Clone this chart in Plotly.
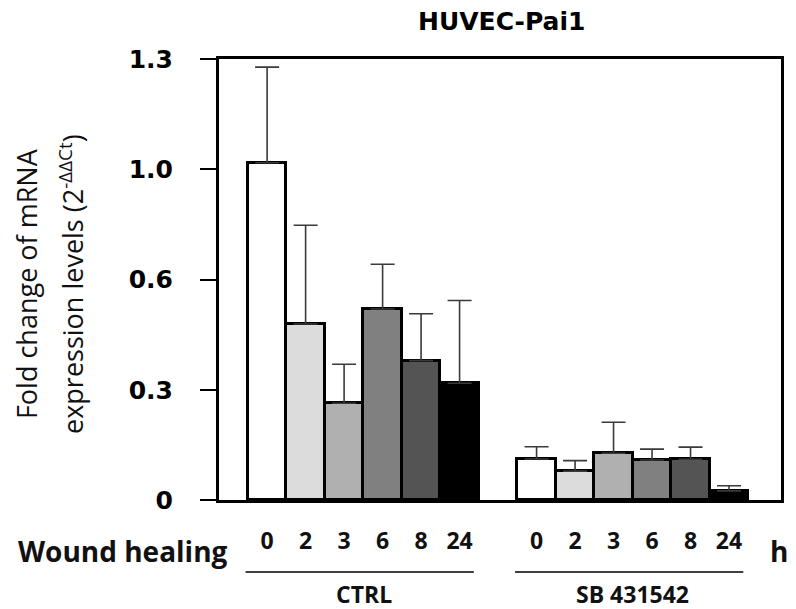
import plotly.graph_objects as go

# ---- data ----
hours = ["0", "2", "3", "6", "8", "24"]
groups = ["CTRL", "SB 431542"]
ctrl_mean = [0.994, 0.519, 0.285, 0.563, 0.411, 0.344]
ctrl_err = [0.282, 0.291, 0.115, 0.132, 0.138, 0.244]
sb_mean = [0.121, 0.085, 0.138, 0.118, 0.120, 0.027]
sb_err = [0.036, 0.031, 0.091, 0.032, 0.036, 0.015]
bar_colors = ["#ffffff", "#dcdcdc", "#b0b0b0", "#808080", "#545454", "#000000"]
ytick_vals = [0, 0.325, 0.65, 0.975, 1.3]
ytick_text = ["0", "0.3", "0.6", "1.0", "1.3"]

n = len(hours)
gap = 1
x_ctrl = [i for i in range(n)]
x_sb = [i + n + gap for i in range(n)]
xs = x_ctrl + x_sb
ys = ctrl_mean + sb_mean
errs = ctrl_err + sb_err

fig = go.Figure()
fig.add_trace(go.Bar(
    x=xs, y=ys, width=1.0,
    marker=dict(color=bar_colors * 2, line=dict(color="black", width=3)),
    error_y=dict(type="data", symmetric=False, array=errs, arrayminus=[0] * len(errs),
                 color="#3a3a3a", thickness=1.6, width=12),
    showlegend=False,
))

ytick_font = dict(family="DejaVu Sans", size=25, color="black", weight="bold")
lbl_bold = dict(family="Open Sans", size=28, color="#111111", weight="bold")
xtick_font = dict(family="Open Sans", size=23, color="#111111", weight="bold")
grp_font = dict(family="Open Sans", size=23, color="#111111", weight="bold")

# the page adds an 8px body margin; the figure is sized to compensate
fig.update_layout(
    width=788, height=601,
    margin=dict(l=211, r=13, t=51, b=109),
    paper_bgcolor="white", plot_bgcolor="white",
    bargap=0,
    xaxis=dict(range=[-1.25, 13.35], tickvals=xs, ticktext=hours * 2,
               tickfont=xtick_font, ticks="", showgrid=False, zeroline=False,
               showline=True, linecolor="black", linewidth=3, mirror=True,
               ticklabelstandoff=18),
    yaxis=dict(range=[0, 1.3], tickvals=ytick_vals, ticktext=ytick_text,
               tickfont=ytick_font, ticks="outside", ticklen=16, tickwidth=2,
               tickcolor="black", showgrid=False, zeroline=False,
               showline=True, linecolor="black", linewidth=3, mirror=True,
               ticklabelstandoff=22),
)

# title
fig.add_annotation(text="HUVEC-Pai1", x=0.502, y=1.084, xref="paper", yref="paper",
                   xanchor="center", yanchor="middle", showarrow=False,
                   font=dict(family="DejaVu Sans", size=25, color="black", weight="bold"))

# y-axis title (two lines, placed separately to match line spacing)
ytitle_font = dict(family="Open Sans", size=27, color="#111111")
fig.add_annotation(text="Fold change of mRNA", x=-0.3413, y=0.49,
                   xref="paper", yref="paper", textangle=-90, showarrow=False,
                   xanchor="center", yanchor="middle", font=ytitle_font)
fig.add_annotation(text="expression levels (2<sup>-ΔΔCt</sup>)", x=-0.2615, y=0.49,
                   xref="paper", yref="paper", textangle=-90, showarrow=False,
                   xanchor="center", yanchor="middle", font=ytitle_font)

# x labels
fig.add_annotation(text="Wound healing", x=-0.3617, y=-0.115, xref="paper", yref="paper",
                   xanchor="left", yanchor="middle", showarrow=False, font=lbl_bold)
fig.add_annotation(text="h", x=0.9965, y=-0.115, xref="paper", yref="paper",
                   xanchor="center", yanchor="middle", showarrow=False, font=lbl_bold)

# group brackets
for gname, gx in zip(groups, [x_ctrl, x_sb]):
    x0, x1 = gx[0] - 0.56, gx[-1] + 0.37
    fig.add_shape(type="line", x0=x0, x1=x1, y0=-0.1633, y1=-0.1633,
                  xref="x", yref="paper", line=dict(color="black", width=1.5))
    fig.add_annotation(text=gname, x=(x0 + x1) / 2 + 0.1, y=-0.213, xref="x", yref="paper",
                       xanchor="center", yanchor="middle", showarrow=False,
                       borderpad=0, font=grp_font)

fig.write_html("out.html")
